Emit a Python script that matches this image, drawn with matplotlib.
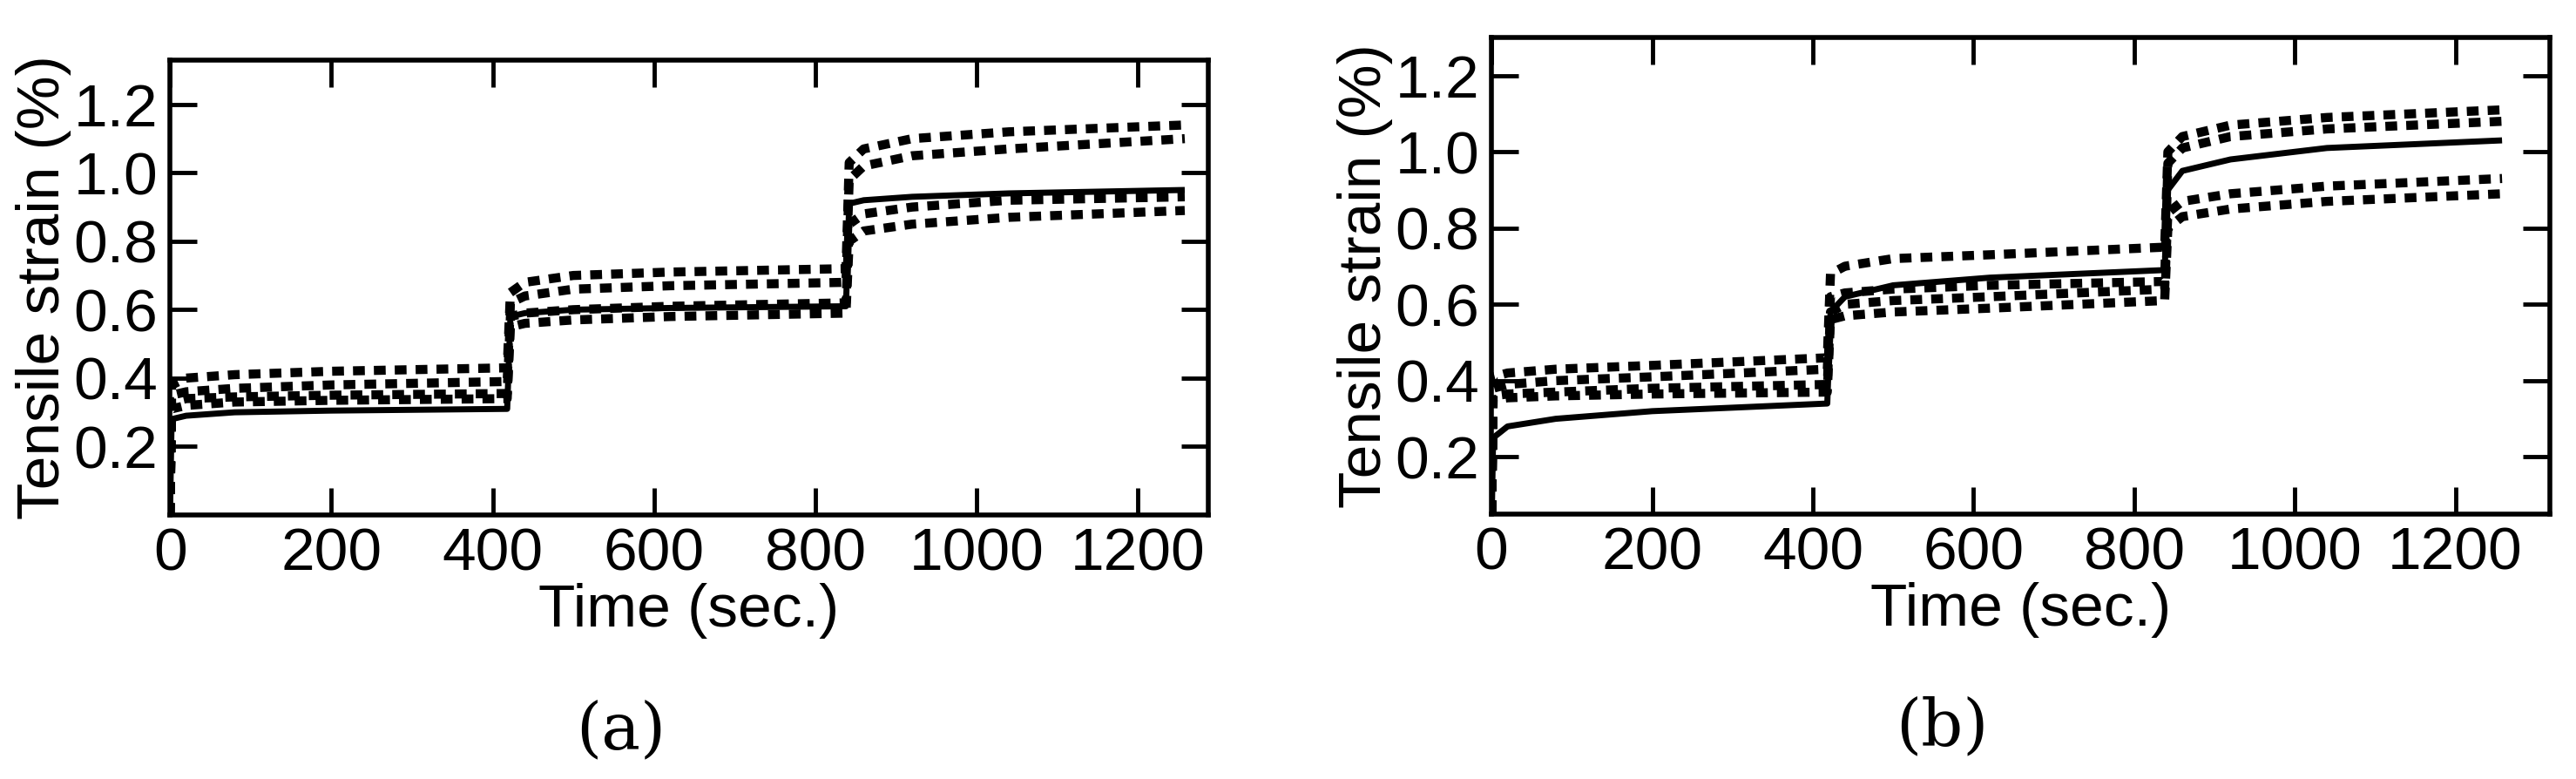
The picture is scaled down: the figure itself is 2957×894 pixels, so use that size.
import matplotlib
matplotlib.use("Agg")
import matplotlib.pyplot as plt
import numpy as np

plt.rcParams['font.family'] = ['Liberation Sans', 'DejaVu Sans']

stage_starts = [0, 420, 840]
offsets = [2, 20, 80, 200, 418]

panel_a = {
    "c1": [0.38, 0.40, 0.41, 0.42, 0.43, 0.65, 0.68, 0.70, 0.71, 0.72, 1.03, 1.07, 1.10, 1.12, 1.14],
    "c2": [0.35, 0.36, 0.37, 0.38, 0.39, 0.62, 0.64, 0.66, 0.67, 0.68, 0.98, 1.02, 1.05, 1.07, 1.10],
    "c3": [0.33, 0.34, 0.345, 0.35, 0.355, 0.58, 0.59, 0.60, 0.61, 0.62, 0.85, 0.88, 0.90, 0.92, 0.93],
    "c4": [0.31, 0.32, 0.33, 0.335, 0.34, 0.55, 0.56, 0.57, 0.58, 0.59, 0.80, 0.83, 0.85, 0.87, 0.89],
    "c5": [0.28, 0.29, 0.30, 0.305, 0.31, 0.58, 0.59, 0.60, 0.605, 0.61, 0.91, 0.92, 0.93, 0.94, 0.95],
}
panel_b = {
    "c1": [0.41, 0.42, 0.43, 0.44, 0.46, 0.68, 0.70, 0.72, 0.73, 0.75, 1.00, 1.04, 1.07, 1.09, 1.11],
    "c2": [0.38, 0.39, 0.40, 0.41, 0.43, 0.62, 0.63, 0.64, 0.65, 0.66, 0.97, 1.01, 1.04, 1.06, 1.08],
    "c3": [0.36, 0.365, 0.37, 0.38, 0.39, 0.58, 0.60, 0.61, 0.62, 0.64, 0.84, 0.87, 0.89, 0.91, 0.93],
    "c4": [0.35, 0.355, 0.36, 0.365, 0.37, 0.56, 0.57, 0.58, 0.59, 0.61, 0.80, 0.83, 0.85, 0.87, 0.89],
    "c5": [0.25, 0.28, 0.30, 0.32, 0.34, 0.58, 0.62, 0.65, 0.67, 0.69, 0.90, 0.95, 0.98, 1.01, 1.03],
}
styles = {"c1": "dash", "c2": "dash", "c3": "dash", "c4": "dash", "c5": "solid"}

x_ticks = [0, 200, 400, 600, 800, 1000, 1200]
y_ticks = [0.2, 0.4, 0.6, 0.8, 1.0, 1.2]

t = [0.0] + [s + o for s in stage_starts for o in offsets]

fig = plt.figure(figsize=(29.57, 8.94), dpi=100)
axa = fig.add_axes([0.066, 0.339, 0.403, 0.584])
axb = fig.add_axes([0.579, 0.340, 0.411, 0.612])

def draw(ax, data, ylim, xmax, label, lx, ly):
    for k, vals in data.items():
        y = [0.0] + vals
        if styles[k] == "solid":
            ax.plot(t, y, color="black", lw=5, solid_capstyle="butt")
        else:
            ax.plot(t, y, color="black", lw=7.5, dashes=(1.3, 1.0))
    ax.set_xlim(0, xmax)
    ax.set_ylim(*ylim)
    ax.set_xticks(x_ticks)
    ax.set_yticks(y_ticks)
    ax.set_yticklabels([f"{v:.1f}" for v in y_ticks])
    ax.tick_params(direction="in", length=22, width=3.5, top=True, right=True,
                   labelsize=50, pad=10)
    for s in ax.spines.values():
        s.set_linewidth(4)
    ax.set_xlabel("Time (sec.)", fontsize=50, labelpad=0)
    ax.set_ylabel("Tensile strain (%)", fontsize=50, labelpad=2)
    fig.text(lx, ly, label, fontsize=54, family="DejaVu Serif", ha="center", va="center")

draw(axa, panel_a, (0.0, 1.33), 1287, "(a)", 0.241, 0.062)
draw(axb, panel_b, (0.05, 1.30), 1318, "(b)", 0.754, 0.066)

fig.savefig("out.png", dpi=100)
